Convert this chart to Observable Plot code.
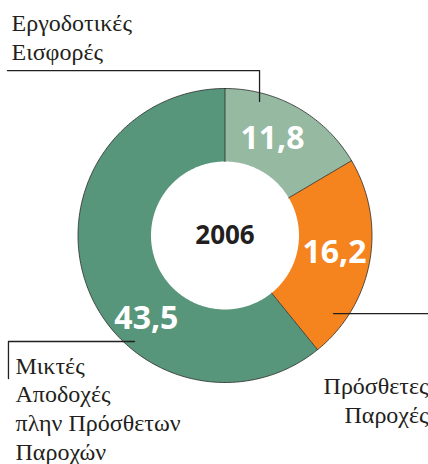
<!DOCTYPE html>
<html><head><meta charset="utf-8">
<script src="https://cdn.jsdelivr.net/npm/d3@7"></script>
<script src="https://cdn.jsdelivr.net/npm/@observablehq/plot@0.6"></script>
<style>html,body{margin:0;padding:0;background:#fff;}</style>
</head><body><div id="chart"></div>
<script>
// ---- data ----
const categories = ["Εργοδοτικές Εισφορές", "Πρόσθετες Παροχές", "Μικτές Αποδοχές πλην Πρόσθετων Παροχών"];
const values = [11.8, 16.2, 43.5];
const valueLabels = ["11,8", "16,2", "43,5"];
const centerLabel = "2006";
const sliceColors = ["#95b9a1", "#f5841f", "#58967b"];
const calloutTexts = ["Εργοδοτικές\nΕισφορές", "Πρόσθετες\nΠαροχές", "Μικτές\nΑποδοχές\nπλην Πρόσθετων\nΠαροχών"];

// ---- layout (unit space: outer radius = 1) ----
const W = 428, H = 464, cx = 224.5, cy = 235, R = 147;
const inner = 74 / 147;
const valuePos = [[0.323, 0.661], [0.745, -0.114], [-0.535, -0.563]];
const calloutPos = [
  {x: -1.452, y: 1.531, anchor: "start"},
  {x: 1.385, y: -0.939, anchor: "end"},
  {x: -1.425, y: -0.800, anchor: "start"}
];
const leaders = [
  [[-1.48, 1.122], [0.235, 1.122], [0.235, 0.912]],
  [[0.738, -0.531], [1.45, -0.531]],
  [[-0.616, -0.721], [-1.473, -0.721], [-1.473, -0.973]]
];

// ---- geometry from data ----
const pie = d3.pie().sort(null).value(d => d)(values);
const polys = [];
const radials = [];
pie.forEach((p, i) => {
  const a0 = p.startAngle, a1 = p.endAngle;
  const n = Math.max(2, Math.ceil((a1 - a0) / (Math.PI / 360)));
  for (let k = 0; k <= n; k++) {
    const a = a0 + (a1 - a0) * k / n;
    polys.push({key: categories[i], x: Math.sin(a), y: Math.cos(a)});
  }
  for (let k = n; k >= 0; k--) {
    const a = a0 + (a1 - a0) * k / n;
    polys.push({key: categories[i], x: inner * Math.sin(a), y: inner * Math.cos(a)});
  }
  radials.push({id: i, x: inner * Math.sin(a0), y: inner * Math.cos(a0)});
  radials.push({id: i, x: Math.sin(a0), y: Math.cos(a0)});
});
const outerRing = d3.range(0, 361).map(d => ({x: Math.sin(d * Math.PI / 180), y: Math.cos(d * Math.PI / 180)}));
const leaderPts = leaders.flatMap((l, i) => l.map(([x, y]) => ({id: i, x, y})));
const valueData = values.map((v, i) => ({text: valueLabels[i], x: valuePos[i][0], y: valuePos[i][1]}));

const calloutMarks = calloutTexts.map((t, i) =>
  Plot.text([t], {x: () => calloutPos[i].x, y: () => calloutPos[i].y, text: d => d,
    textAnchor: calloutPos[i].anchor, lineAnchor: "top", lineHeight: 1.2,
    fill: "#231f20", fontSize: 24, fontFamily: "Liberation Serif"}));

const plot = Plot.plot({
  width: W, height: H, margin: 0,
  x: {domain: [-1, 1], range: [cx - R, cx + R], axis: null},
  y: {domain: [-1, 1], range: [cy + R, cy - R], axis: null},
  color: {domain: categories, range: sliceColors},
  style: {background: "#fff"},
  marks: [
    Plot.line(polys, {x: "x", y: "y", z: "key", fill: "key", stroke: "none", curve: "linear-closed"}),
    Plot.line(outerRing, {x: "x", y: "y", stroke: "#2b2b2b", strokeWidth: 0.8}),
    Plot.line(radials, {x: "x", y: "y", z: "id", stroke: "#2b2b2b", strokeWidth: 0.8}),
    Plot.line(leaderPts, {x: "x", y: "y", z: "id", stroke: "#231f20", strokeWidth: 1.3}),
    Plot.text(valueData, {x: "x", y: "y", text: "text", fill: "#fff", fontSize: 32, fontWeight: "bold", fontFamily: "Open Sans"}),
    Plot.text([centerLabel], {x: () => 0, y: () => 0, text: d => d, fill: "#231f20", fontSize: 26, fontWeight: "bold", fontFamily: "Open Sans"}),
    ...calloutMarks
  ]
});
document.getElementById("chart").appendChild(plot);
</script>
</body></html>
